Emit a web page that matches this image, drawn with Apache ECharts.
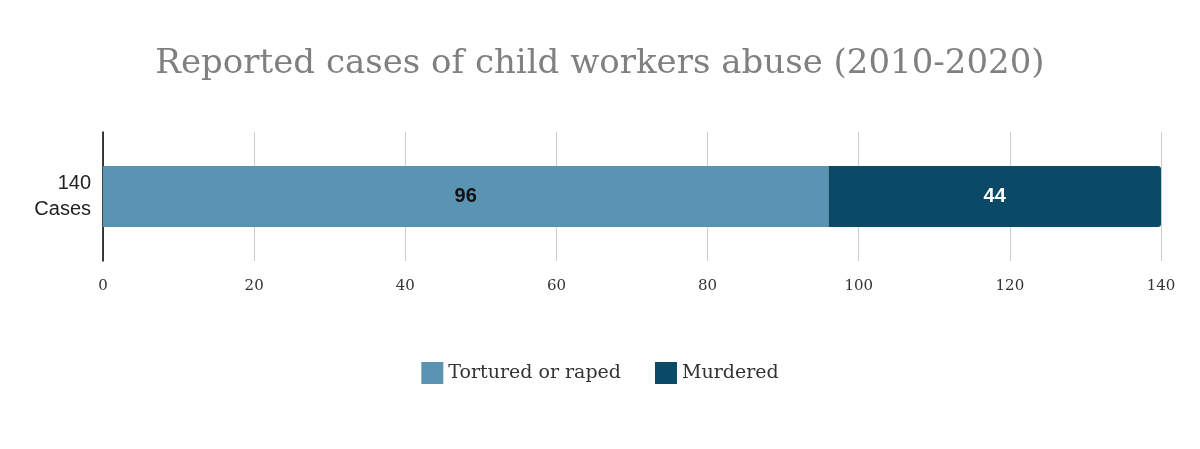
<!DOCTYPE html>
<html><head><meta charset="utf-8">
<script src="https://cdn.jsdelivr.net/npm/echarts@6/dist/echarts.min.js"></script>
<style>html,body{margin:0;background:#fff}#chart{width:1200px;height:449px}</style>
</head><body><div id="chart"></div>
<script>
const categories = ['140\nCases'];
const tortured = [96];
const murdered = [44];
const seriesNames = ['Tortured or raped', 'Murdered'];

const chart = echarts.init(document.getElementById('chart'));
chart.setOption({
  title: {
    text: 'Reported cases of child workers abuse (2010-2020)',
    left: 'center', top: 42,
    textStyle: { fontFamily: 'DejaVu Serif', fontSize: 34, fontWeight: 'normal', color: '#808080' }
  },
  legend: {
    bottom: 60, left: 'center', itemWidth: 22, itemHeight: 22, itemGap: 34, icon: 'rect',
    textStyle: { fontFamily: 'DejaVu Serif', fontSize: 19, color: '#333' },
    data: seriesNames
  },
  grid: { left: 103, right: 39, top: 132, height: 129 },
  xAxis: {
    type: 'value', min: 0, max: 140, interval: 20,
    axisLabel: { fontFamily: 'DejaVu Serif', fontSize: 15, color: '#333', margin: 18 },
    splitLine: { lineStyle: { color: '#cccccc' } },
    axisLine: { show: false }, axisTick: { show: false }
  },
  yAxis: {
    type: 'category', data: categories,
    axisLine: { show: true, lineStyle: { color: '#000', width: 1.5 } },
    axisTick: { show: false },
    axisLabel: { fontFamily: 'Liberation Sans', fontSize: 20, color: '#222', lineHeight: 26, margin: 12 }
  },
  series: [
    {
      name: seriesNames[0], type: 'bar', stack: 'a', data: tortured, barWidth: 61,
      itemStyle: { color: '#5b93b2' },
      label: { show: true, position: 'inside', fontFamily: 'Liberation Sans', fontSize: 20, fontWeight: 'bold', color: '#111' }
    },
    {
      name: seriesNames[1], type: 'bar', stack: 'a', data: murdered, barWidth: 61,
      itemStyle: { color: '#0b4a66', borderRadius: [0, 3, 3, 0] },
      label: { show: true, position: 'inside', fontFamily: 'Liberation Sans', fontSize: 20, fontWeight: 'bold', color: '#fff' }
    }
  ]
});
</script></body></html>
